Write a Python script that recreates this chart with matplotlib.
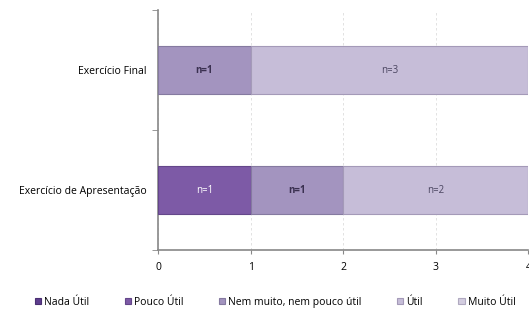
import numpy as np
import matplotlib.pyplot as plt

plt.rcParams['font.family'] = ['Open Sans', 'DejaVu Sans']

categories = ['Exercício de Apresentação', 'Exercício Final']
series = ['Nada Útil', 'Pouco Útil', 'Nem muito, nem pouco útil', 'Útil', 'Muito Útil']
values = {
    'Nada Útil': [0, 0],
    'Pouco Útil': [1, 0],
    'Nem muito, nem pouco útil': [1, 1],
    'Útil': [2, 3],
    'Muito Útil': [0, 0],
}
colors = ['#5e3d8e', '#7d5aa6', '#a394bf', '#c6bdd8', '#d3cde0']
edges = ['#4a2f72', '#64478a', '#857aa0', '#a49ab8', '#b0a9c0']
label_colors = ['white', 'white', '#3a3050', '#4a4560', '#4a4560']
label_weight = ['normal', 'normal', 'bold', 'normal', 'normal']

fig = plt.figure(figsize=(5.29, 3.17), dpi=100)
ax = fig.add_axes([0.2987, 0.2114, 0.7, 0.7566])

y = np.arange(len(categories))
left = np.zeros(len(categories))
for i, s in enumerate(series):
    v = np.array(values[s], dtype=float)
    ax.barh(y, v, left=left, height=0.4, color=colors[i], edgecolor=edges[i],
            linewidth=0.8, label=s, zorder=3)
    for j in range(len(categories)):
        if v[j] > 0:
            ax.text(left[j] + v[j] / 2, y[j], 'n=%d' % v[j], ha='center', va='center',
                    fontsize=7, color=label_colors[i], fontweight=label_weight[i], zorder=4)
    left += v

ax.set_xlim(0, 4)
ax.set_ylim(-0.5, 1.5)
ax.set_xticks([0, 1, 2, 3, 4])
ax.set_yticks(y)
ax.set_yticklabels(categories, fontsize=7.5)
ax.set_yticks([-0.5, 0.5, 1.5], minor=True)
ax.tick_params(axis='y', which='major', length=0, pad=8)
ax.tick_params(axis='y', which='minor', length=4, color='#888888', direction='out')
ax.tick_params(axis='x', labelsize=7.5, length=3, color='#888888', direction='out', pad=6)
ax.grid(axis='x', color='#dddddd', linestyle=(0, (3, 3)), linewidth=0.6, zorder=0)
for side in ['top', 'right']:
    ax.spines[side].set_visible(False)
for side in ['left', 'bottom']:
    ax.spines[side].set_color('#888888')
    ax.spines[side].set_linewidth(1.2)

fig.legend(loc='center', bbox_to_anchor=(0.52, 0.047), ncol=5, frameon=False,
           fontsize=7.5, handlelength=0.6, handleheight=0.6, handletextpad=0.3,
           columnspacing=3.4)

fig.savefig('out.png', dpi=100)
